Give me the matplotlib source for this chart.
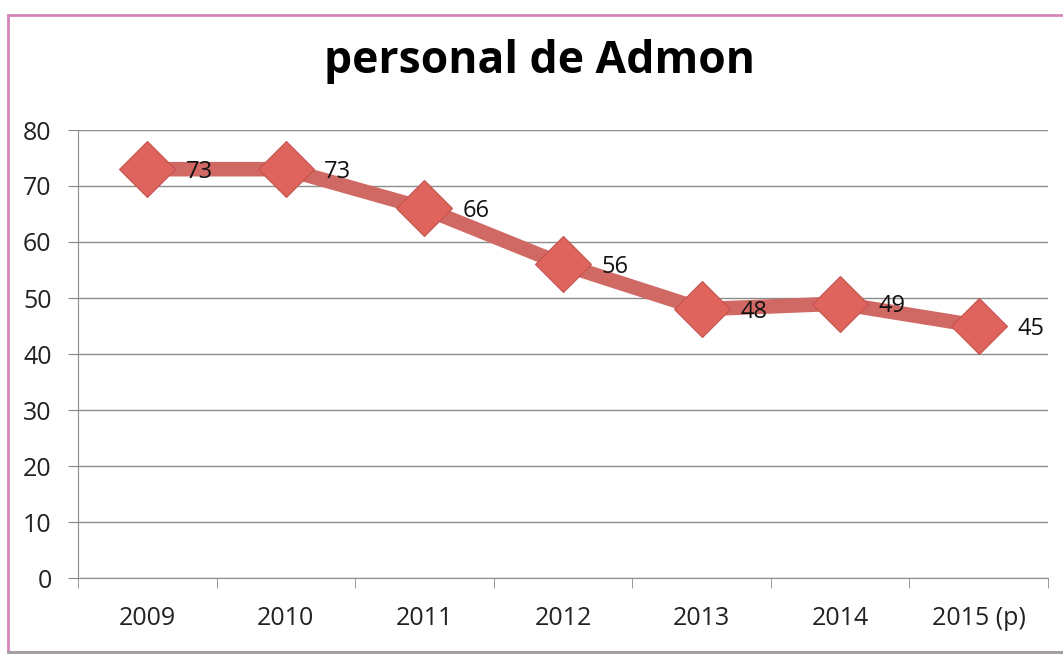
import matplotlib.pyplot as plt
import matplotlib.patches as patches
import numpy as np

years = ['2009', '2010', '2011', '2012', '2013', '2014', '2015 (p)']
personal = [73, 73, 66, 56, 48, 49, 45]

plt.rcParams['font.family'] = ['Open Sans', 'DejaVu Sans']

fig = plt.figure(figsize=(10.63, 6.55), dpi=100)
ax = fig.add_axes([78/1063, 1 - 578/655, 970/1063, 448/655])

x = np.arange(len(years))
ax.plot(x, personal, color='#D06963', lw=10.5, solid_capstyle='butt', zorder=3)
ax.plot(x, personal, ls='none', marker='D', ms=29, mfc='#DF645D', mec='#C4524C',
        mew=0.8, zorder=4)

# data labels to the right of each point
for i, v in enumerate(personal):
    ax.text(i + 0.375, v - 0.5, str(v), fontsize=17, va='center', ha='center',
            color='#111111', zorder=5)

ax.set_xlim(-0.5, len(years) - 0.5)
ax.set_ylim(0, 80)
ax.set_yticks(range(0, 81, 10))
ax.set_xticks(x)
ax.set_xticklabels(years)
ax.set_xticks(np.arange(-0.5, len(years)), minor=True)
ax.tick_params(axis='x', which='major', length=0, pad=20, labelsize=18, colors='#222222')
ax.tick_params(axis='x', which='minor', length=7, color='#888888', direction='out')
ax.tick_params(axis='y', length=7, labelsize=18, colors='#222222', pad=12)
ax.tick_params(axis='y', color='#888888')
ax.grid(axis='y', color='#8C8C8C', lw=1)
ax.set_axisbelow(True)
for s in ['top', 'right']:
    ax.spines[s].set_visible(False)
ax.spines['left'].set_color('#8C8C8C')
ax.spines['bottom'].set_color('#8C8C8C')

fig.text(540/1063, 1 - 62/655, 'personal de Admon', fontsize=32, fontweight='bold',
         ha='center', va='center')

# chart frame
fig.patches.append(patches.Rectangle((8/1063, 3/655), 1.2, 637/655, transform=fig.transFigure,
                                     fill=False, ec='#D486B8', lw=2, figure=fig))
fig.lines.append(plt.Line2D([8/1063, 1], [3/655, 3/655], transform=fig.transFigure,
                            color='#A0A0A0', lw=2))

fig.savefig('out.png', dpi=100)
